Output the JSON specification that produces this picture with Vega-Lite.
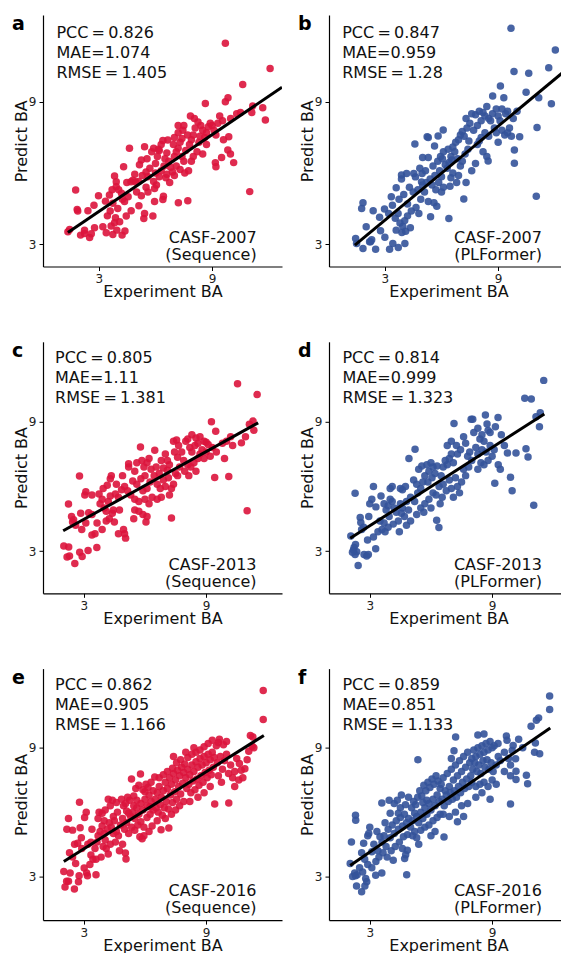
{
"$schema": "https://vega.github.io/schema/vega-lite/v6.json",
"padding": {"left": 12, "top": 15, "right": 0, "bottom": 0},
"background": "white",
"config": {
  "view": {"stroke": null},
  "font": "DejaVu Sans",
  "axis": {"grid": false, "domainColor": "#000000", "domainWidth": 1.2, "tickColor": "#000000", "tickSize": 4, "tickWidth": 1, "labelFontSize": 12, "labelColor": "#222222", "labelPadding": 3, "titleFontSize": 16, "titleFontWeight": "normal", "titleColor": "#111111", "labelFont": "DejaVu Sans", "titleFont": "DejaVu Sans"},
  "axisX": {"titlePadding": -1},
  "axisY": {"titleBaseline": "alphabetic", "titlePadding": 2},
  "title": {"anchor": "start", "frame": "group", "orient": "top", "baseline": "alphabetic", "offset": -19, "dx": -31, "fontSize": 19, "fontWeight": "bold", "font": "DejaVu Sans", "color": "#000000"},
  "text": {"font": "DejaVu Sans", "fontSize": 16, "color": "#111111", "lineBreak": "\n"}
},
"datasets": {
"pa": [{"x":1.36,"y":3.53},{"x":1.45,"y":3.63},{"x":1.77,"y":5.29},{"x":1.85,"y":4.47},{"x":1.88,"y":4.4},{"x":2.03,"y":3.39},{"x":2.24,"y":3.6},{"x":2.24,"y":3.46},{"x":2.51,"y":3.29},{"x":2.77,"y":3.7},{"x":2.42,"y":4.42},{"x":2.74,"y":4.65},{"x":2.98,"y":5.05},{"x":2.6,"y":3.45},
{"x":3.35,"y":4.82},{"x":3.39,"y":3.49},{"x":3.74,"y":3.42},{"x":3.95,"y":3.6},{"x":4.23,"y":3.39},{"x":4.38,"y":3.56},{"x":3.65,"y":3.77},{"x":3.83,"y":3.91},{"x":3.88,"y":4.12},{"x":3.21,"y":3.74},{"x":3.56,"y":5.08},{"x":3.74,"y":4.73},{"x":4.0,"y":4.51},{"x":4.36,"y":4.8},{"x":4.71,"y":4.42},{"x":4.45,"y":4.19},{"x":3.92,"y":5.64},{"x":3.83,"y":5.88},{"x":3.92,"y":5.43},{"x":4.31,"y":6.27},{"x":4.62,"y":7.04},{"x":4.48,"y":5.6},{"x":4.7,"y":5.64},{"x":4.8,"y":5.7},{"x":4.95,"y":5.62},{"x":5.1,"y":5.65},{"x":3.6,"y":4.4},{"x":4.1,"y":3.95},{"x":3.45,"y":4.2},{"x":4.25,"y":4.9},{"x":4.55,"y":5.0},{"x":3.7,"y":5.3},{"x":4.05,"y":5.3},{"x":4.2,"y":5.15},
{"x":5.0,"y":5.2},{"x":5.25,"y":5.05},{"x":5.5,"y":5.4},{"x":5.6,"y":5.2},{"x":5.42,"y":7.11},{"x":5.38,"y":4.09},{"x":5.42,"y":4.3},{"x":5.86,"y":4.19},{"x":5.12,"y":4.63},{"x":5.95,"y":4.8},{"x":6.39,"y":4.89},{"x":6.42,"y":5.03},{"x":5.9,"y":5.65},{"x":6.05,"y":5.5},{"x":5.95,"y":5.35},{"x":5.3,"y":5.9},{"x":5.5,"y":6.05},{"x":5.7,"y":6.2},{"x":5.8,"y":6.9},{"x":5.55,"y":6.6},{"x":5.25,"y":6.55},{"x":5.15,"y":6.35},{"x":4.9,"y":5.95},{"x":5.6,"y":5.85},{"x":6.0,"y":6.4},{"x":6.1,"y":6.7},{"x":6.2,"y":6.95},{"x":6.3,"y":7.2},{"x":6.15,"y":7.0},{"x":5.9,"y":7.05},{"x":6.0,"y":6.0},{"x":6.2,"y":5.85},{"x":6.3,"y":6.1},{"x":6.45,"y":6.3},
{"x":6.65,"y":7.39},{"x":6.39,"y":7.37},{"x":6.5,"y":6.6},{"x":6.6,"y":6.85},{"x":6.7,"y":6.5},{"x":6.8,"y":6.25},{"x":6.9,"y":6.05},{"x":6.55,"y":5.8},{"x":6.75,"y":5.6},{"x":6.6,"y":5.95},{"x":7.0,"y":6.7},{"x":7.1,"y":6.9},{"x":7.2,"y":7.05},{"x":6.95,"y":7.2},{"x":7.3,"y":7.3},{"x":7.4,"y":7.45},{"x":7.2,"y":7.7},{"x":7.45,"y":7.8},{"x":7.1,"y":6.3},{"x":7.3,"y":6.15},{"x":7.5,"y":6.5},{"x":7.4,"y":6.7},{"x":7.6,"y":6.95},{"x":7.21,"y":4.75},{"x":7.71,"y":4.84},{"x":7.2,"y":8.0},{"x":7.5,"y":8.0},{"x":7.0,"y":7.5},{"x":7.55,"y":6.0},{"x":7.75,"y":6.1},{"x":7.0,"y":5.9},
{"x":7.8,"y":7.2},{"x":7.9,"y":7.4},{"x":8.0,"y":7.6},{"x":8.1,"y":7.9},{"x":8.06,"y":8.3},{"x":8.25,"y":8.15},{"x":7.85,"y":8.4},{"x":8.4,"y":8.0},{"x":8.5,"y":7.8},{"x":8.6,"y":7.5},{"x":8.3,"y":7.3},{"x":8.7,"y":7.7},{"x":8.64,"y":8.93},{"x":8.9,"y":8.1},{"x":8.8,"y":7.95},{"x":9.0,"y":8.0},{"x":9.1,"y":7.8},{"x":8.2,"y":6.9},{"x":8.0,"y":6.7},{"x":7.9,"y":6.5},{"x":8.5,"y":6.8},{"x":8.7,"y":7.2},{"x":8.35,"y":7.55},{"x":7.7,"y":7.6},
{"x":9.17,"y":6.44},{"x":9.2,"y":6.27},{"x":9.5,"y":6.66},{"x":9.83,"y":6.97},{"x":9.97,"y":6.8},{"x":9.88,"y":7.53},{"x":10.14,"y":6.44},{"x":9.7,"y":11.46},{"x":9.84,"y":9.17},{"x":9.7,"y":9.0},{"x":9.98,"y":8.3},{"x":9.3,"y":8.1},{"x":9.4,"y":8.4},{"x":9.55,"y":8.2},{"x":9.2,"y":7.6},{"x":10.5,"y":8.55},{"x":11.1,"y":8.55},{"x":11.15,"y":8.82},{"x":11.68,"y":8.75},{"x":11.82,"y":8.23},{"x":10.62,"y":9.73},{"x":12.07,"y":10.4},{"x":10.99,"y":5.22},{"x":10.3,"y":8.5},{"x":9.6,"y":7.4}],
"pb": [{"x":1.45,"y":3.25},{"x":1.5,"y":3.04},{"x":1.84,"y":2.83},{"x":2.19,"y":3.11},{"x":2.24,"y":3.11},{"x":2.51,"y":2.8},{"x":3.25,"y":2.8},{"x":3.42,"y":3.04},{"x":3.71,"y":2.87},{"x":4.06,"y":3.04},{"x":1.84,"y":4.75},{"x":1.77,"y":4.51},{"x":2.01,"y":3.74},{"x":2.38,"y":4.42},{"x":2.72,"y":4.14},{"x":2.98,"y":4.49},{"x":2.77,"y":3.57},{"x":2.3,"y":3.2},{"x":3.0,"y":3.3},
{"x":3.34,"y":5.0},{"x":3.6,"y":5.38},{"x":3.88,"y":5.92},{"x":3.88,"y":5.75},{"x":4.15,"y":5.98},{"x":4.53,"y":5.98},{"x":4.62,"y":5.84},{"x":4.97,"y":5.98},{"x":4.94,"y":5.63},{"x":3.7,"y":4.3},{"x":3.55,"y":4.1},{"x":3.8,"y":3.9},{"x":3.95,"y":3.75},{"x":4.05,"y":4.0},{"x":4.2,"y":4.2},{"x":3.6,"y":3.6},{"x":3.9,"y":3.5},{"x":4.1,"y":3.55},{"x":4.35,"y":3.7},{"x":4.4,"y":4.4},{"x":4.65,"y":4.55},{"x":4.2,"y":4.7},{"x":3.4,"y":4.65},{"x":3.2,"y":4.3},{"x":4.5,"y":5.2},{"x":4.3,"y":5.4},{"x":4.0,"y":5.1},{"x":3.75,"y":4.9},{"x":4.75,"y":5.3},{"x":4.9,"y":4.9},{"x":4.8,"y":4.3},
{"x":4.59,"y":7.22},{"x":5.24,"y":7.53},{"x":5.3,"y":7.5},{"x":5.82,"y":7.56},{"x":5.63,"y":7.14},{"x":5.0,"y":6.66},{"x":5.3,"y":6.66},{"x":5.42,"y":4.16},{"x":5.2,"y":5.6},{"x":5.4,"y":5.75},{"x":5.5,"y":5.5},{"x":5.7,"y":5.3},{"x":5.65,"y":5.9},{"x":5.9,"y":6.1},{"x":6.0,"y":5.85},{"x":5.85,"y":5.6},{"x":5.55,"y":6.3},{"x":5.8,"y":6.5},{"x":5.95,"y":6.7},{"x":6.1,"y":6.9},{"x":6.05,"y":6.6},{"x":5.1,"y":5.2},{"x":5.3,"y":4.8},{"x":5.6,"y":4.75},{"x":5.75,"y":4.6},{"x":6.0,"y":5.2},{"x":6.1,"y":5.4},{"x":5.15,"y":6.1},{"x":5.0,"y":5.5},{"x":4.85,"y":6.2},
{"x":6.09,"y":7.81},{"x":6.39,"y":4.09},{"x":6.3,"y":6.2},{"x":6.4,"y":6.45},{"x":6.5,"y":6.7},{"x":6.35,"y":7.0},{"x":6.6,"y":7.1},{"x":6.75,"y":7.3},{"x":6.7,"y":6.9},{"x":6.9,"y":7.4},{"x":7.0,"y":7.6},{"x":7.1,"y":7.75},{"x":7.2,"y":7.55},{"x":6.5,"y":5.8},{"x":6.6,"y":6.0},{"x":6.8,"y":5.6},{"x":6.9,"y":5.9},{"x":7.0,"y":6.3},{"x":7.1,"y":6.5},{"x":6.45,"y":5.45},{"x":7.18,"y":4.91},{"x":6.85,"y":6.6},{"x":7.25,"y":6.8},{"x":7.4,"y":7.0},{"x":7.35,"y":7.9},{"x":7.5,"y":8.1},{"x":7.3,"y":8.3},{"x":7.45,"y":7.35},{"x":6.2,"y":6.35},{"x":6.55,"y":6.55},{"x":7.6,"y":6.1},{"x":7.3,"y":5.6},
{"x":7.6,"y":8.5},{"x":7.8,"y":8.45},{"x":8.0,"y":8.6},{"x":8.2,"y":8.55},{"x":8.1,"y":8.2},{"x":7.9,"y":8.0},{"x":7.7,"y":7.8},{"x":8.3,"y":8.4},{"x":8.5,"y":8.3},{"x":8.4,"y":8.8},{"x":8.6,"y":8.2},{"x":8.8,"y":7.9},{"x":8.1,"y":7.5},{"x":8.3,"y":7.7},{"x":8.5,"y":7.55},{"x":7.9,"y":7.2},{"x":8.0,"y":7.35},{"x":8.2,"y":6.9},{"x":8.4,"y":6.7},{"x":8.47,"y":6.51},{"x":7.8,"y":6.4},{"x":8.71,"y":9.24},{"x":9.12,"y":9.66},{"x":9.3,"y":9.17},{"x":8.9,"y":8.7},{"x":9.0,"y":8.4},{"x":9.2,"y":8.7},{"x":9.1,"y":8.2},{"x":9.4,"y":8.5},{"x":9.5,"y":8.6},{"x":9.2,"y":7.8},{"x":9.35,"y":7.6},{"x":9.5,"y":7.7},{"x":8.9,"y":7.7},{"x":9.0,"y":7.3},{"x":9.6,"y":7.9},{"x":8.7,"y":8.5},
{"x":9.68,"y":12.09},{"x":12.03,"y":11.18},{"x":11.68,"y":10.43},{"x":10.62,"y":10.2},{"x":9.84,"y":10.27},{"x":10.48,"y":9.4},{"x":11.15,"y":9.17},{"x":11.82,"y":8.92},{"x":11.06,"y":7.92},{"x":11.02,"y":5.03},{"x":9.86,"y":6.97},{"x":9.86,"y":6.41},{"x":10.14,"y":7.53},{"x":9.8,"y":8.3},{"x":10.0,"y":8.6},{"x":9.7,"y":7.55}],
"pc": [{"x":2.02,"y":3.23},{"x":2.26,"y":3.19},{"x":2.18,"y":2.72},{"x":2.3,"y":2.77},{"x":2.56,"y":2.42},{"x":2.8,"y":2.95},{"x":2.92,"y":2.75},{"x":3.21,"y":3.03},{"x":3.64,"y":3.16},{"x":2.25,"y":5.18},{"x":2.79,"y":6.48},{"x":2.5,"y":4.45},{"x":2.45,"y":4.35},{"x":2.85,"y":4.75},{"x":3.24,"y":4.78},{"x":2.6,"y":4.2},{"x":3.1,"y":4.3},{"x":3.05,"y":5.6},{"x":3.1,"y":5.75},{"x":3.4,"y":5.6},{"x":3.75,"y":5.65},{"x":3.4,"y":4.7},{"x":3.65,"y":4.3},{"x":3.55,"y":3.8},{"x":3.4,"y":3.75},{"x":2.9,"y":4.0},{"x":2.4,"y":4.6},
{"x":3.8,"y":5.2},{"x":3.9,"y":5.4},{"x":4.0,"y":5.0},{"x":4.1,"y":4.85},{"x":4.2,"y":5.3},{"x":4.3,"y":5.55},{"x":4.25,"y":4.5},{"x":4.4,"y":4.75},{"x":4.5,"y":4.35},{"x":4.1,"y":4.4},{"x":3.9,"y":4.0},{"x":4.7,"y":3.8},{"x":5.0,"y":3.8},{"x":5.05,"y":3.6},{"x":4.95,"y":4.0},{"x":4.55,"y":5.65},{"x":4.7,"y":5.5},{"x":4.85,"y":5.85},{"x":5.0,"y":6.0},{"x":4.6,"y":6.1},{"x":4.3,"y":6.35},{"x":4.35,"y":6.5},{"x":4.9,"y":6.5},{"x":3.95,"y":5.9},{"x":4.15,"y":6.05},{"x":4.45,"y":4.9},{"x":4.75,"y":4.9},
{"x":5.78,"y":7.83},{"x":5.2,"y":6.9},{"x":5.2,"y":7.05},{"x":5.5,"y":6.7},{"x":5.4,"y":6.25},{"x":5.6,"y":6.1},{"x":5.8,"y":6.35},{"x":5.95,"y":6.9},{"x":6.1,"y":7.1},{"x":6.0,"y":6.5},{"x":5.3,"y":5.6},{"x":5.5,"y":5.4},{"x":5.7,"y":5.3},{"x":5.9,"y":5.8},{"x":6.1,"y":5.9},{"x":6.25,"y":6.2},{"x":6.3,"y":6.8},{"x":6.45,"y":6.5},{"x":5.7,"y":4.85},{"x":5.9,"y":4.7},{"x":6.1,"y":4.6},{"x":5.5,"y":4.9},{"x":6.2,"y":5.2},{"x":6.0,"y":5.4},{"x":6.35,"y":5.5},{"x":5.15,"y":5.8},{"x":5.6,"y":7.1},{"x":5.85,"y":7.2},{"x":6.2,"y":7.3},{"x":5.45,"y":4.5},{"x":6.05,"y":4.35},
{"x":6.48,"y":7.68},{"x":6.55,"y":6.9},{"x":6.7,"y":6.6},{"x":6.8,"y":7.2},{"x":6.9,"y":6.85},{"x":7.0,"y":7.5},{"x":7.1,"y":7.2},{"x":7.2,"y":7.0},{"x":6.6,"y":6.1},{"x":6.75,"y":5.9},{"x":6.9,"y":6.3},{"x":7.0,"y":6.0},{"x":7.15,"y":6.4},{"x":7.3,"y":5.9},{"x":7.4,"y":6.1},{"x":7.5,"y":6.6},{"x":7.3,"y":4.53},{"x":7.2,"y":5.6},{"x":6.8,"y":5.5},{"x":7.45,"y":7.6},{"x":7.6,"y":7.35},{"x":7.65,"y":7.9},{"x":7.4,"y":8.1},{"x":7.55,"y":8.15},{"x":7.8,"y":7.6},{"x":7.9,"y":7.2},{"x":7.7,"y":6.9},{"x":7.6,"y":6.5},{"x":7.95,"y":6.7},{"x":8.0,"y":8.1},{"x":6.6,"y":5.4},{"x":7.1,"y":6.75},
{"x":8.1,"y":8.2},{"x":8.2,"y":7.8},{"x":8.3,"y":7.6},{"x":8.45,"y":7.9},{"x":8.6,"y":8.0},{"x":8.7,"y":8.3},{"x":8.5,"y":8.25},{"x":8.9,"y":8.1},{"x":9.0,"y":8.05},{"x":8.8,"y":7.7},{"x":8.4,"y":7.1},{"x":8.6,"y":7.3},{"x":8.7,"y":7.5},{"x":8.9,"y":7.3},{"x":9.0,"y":7.6},{"x":9.2,"y":7.4},{"x":8.25,"y":6.9},{"x":8.5,"y":6.7},{"x":8.1,"y":7.0},{"x":9.26,"y":9.0},{"x":9.47,"y":8.56},{"x":9.42,"y":6.41},{"x":9.1,"y":7.95},{"x":9.3,"y":7.8},{"x":9.5,"y":7.6},{"x":8.3,"y":8.4},{"x":8.15,"y":6.5},
{"x":10.54,"y":10.76},{"x":11.5,"y":10.26},{"x":11.3,"y":9.03},{"x":11.12,"y":8.88},{"x":11.34,"y":8.61},{"x":10.93,"y":8.3},{"x":10.73,"y":8.02},{"x":10.11,"y":6.46},{"x":11.01,"y":4.87},{"x":9.8,"y":8.0},{"x":10.0,"y":8.1},{"x":10.3,"y":7.9},{"x":9.9,"y":7.3},{"x":10.2,"y":8.3}],
"pd": [{"x":2.07,"y":3.7},{"x":2.23,"y":3.16},{"x":2.36,"y":2.97},{"x":2.28,"y":2.84},{"x":2.43,"y":2.33},{"x":2.72,"y":2.84},{"x":2.85,"y":2.77},{"x":2.93,"y":2.84},{"x":3.29,"y":3.11},{"x":2.89,"y":3.51},{"x":3.18,"y":3.65},{"x":2.2,"y":3.05},{"x":2.15,"y":2.95},{"x":2.3,"y":3.3},{"x":2.28,"y":5.68},{"x":3.18,"y":6.0},{"x":2.53,"y":4.56},{"x":2.56,"y":4.32},{"x":2.7,"y":4.1},{"x":2.95,"y":4.6},{"x":3.0,"y":5.2},{"x":3.1,"y":5.4},{"x":3.3,"y":5.05},{"x":3.5,"y":4.4},{"x":3.6,"y":4.0},{"x":3.4,"y":3.9},{"x":3.7,"y":4.3},{"x":3.75,"y":3.9},{"x":2.6,"y":4.0},
{"x":3.8,"y":4.9},{"x":3.9,"y":5.1},{"x":4.0,"y":5.4},{"x":4.1,"y":5.3},{"x":4.2,"y":5.0},{"x":4.3,"y":4.8},{"x":4.5,"y":5.2},{"x":4.6,"y":5.0},{"x":4.4,"y":4.4},{"x":4.15,"y":4.25},{"x":3.95,"y":4.6},{"x":4.7,"y":4.6},{"x":4.55,"y":4.75},{"x":4.8,"y":5.3},{"x":4.9,"y":4.9},{"x":3.55,"y":5.55},{"x":3.7,"y":5.2},{"x":4.0,"y":5.9},{"x":4.1,"y":6.0},{"x":4.5,"y":5.9},{"x":4.6,"y":5.85},{"x":4.75,"y":6.0},{"x":4.92,"y":7.29},{"x":5.22,"y":7.72},{"x":4.45,"y":3.9},{"x":4.8,"y":4.2},{"x":5.0,"y":4.4},{"x":3.9,"y":4.1},
{"x":5.0,"y":5.5},{"x":5.2,"y":5.3},{"x":5.35,"y":5.7},{"x":5.5,"y":5.9},{"x":5.6,"y":6.2},{"x":5.7,"y":6.5},{"x":5.4,"y":6.8},{"x":5.55,"y":6.95},{"x":5.8,"y":7.0},{"x":5.9,"y":6.7},{"x":6.0,"y":7.1},{"x":6.1,"y":6.9},{"x":5.15,"y":6.3},{"x":5.3,"y":6.1},{"x":5.85,"y":6.2},{"x":6.05,"y":6.4},{"x":6.2,"y":6.6},{"x":6.3,"y":6.95},{"x":5.5,"y":5.0},{"x":5.7,"y":5.2},{"x":5.9,"y":5.4},{"x":6.1,"y":5.7},{"x":6.25,"y":5.6},{"x":6.4,"y":6.0},{"x":5.65,"y":4.8},{"x":6.28,"y":4.43},{"x":6.39,"y":4.09},{"x":5.3,"y":4.7},{"x":6.45,"y":5.2},{"x":6.0,"y":5.0},
{"x":6.5,"y":6.5},{"x":6.6,"y":6.9},{"x":6.7,"y":7.2},{"x":6.8,"y":7.0},{"x":6.9,"y":7.3},{"x":7.0,"y":7.5},{"x":7.1,"y":7.1},{"x":6.6,"y":6.1},{"x":6.75,"y":5.8},{"x":6.9,"y":6.3},{"x":7.0,"y":5.9},{"x":7.2,"y":6.4},{"x":7.3,"y":6.0},{"x":7.4,"y":5.7},{"x":7.5,"y":6.2},{"x":7.13,"y":8.92},{"x":6.8,"y":7.9},{"x":7.0,"y":8.1},{"x":7.25,"y":7.9},{"x":7.3,"y":7.5},{"x":7.45,"y":7.7},{"x":7.6,"y":8.3},{"x":7.7,"y":8.0},{"x":7.8,"y":7.4},{"x":7.9,"y":7.6},{"x":7.97,"y":9.12},{"x":7.6,"y":6.8},{"x":7.7,"y":6.5},{"x":7.85,"y":6.9},{"x":6.55,"y":5.5},{"x":7.1,"y":5.5},
{"x":8.05,"y":9.12},{"x":8.67,"y":9.31},{"x":9.29,"y":9.2},{"x":9.16,"y":8.77},{"x":8.1,"y":8.5},{"x":8.3,"y":8.7},{"x":8.4,"y":8.2},{"x":8.5,"y":8.4},{"x":8.6,"y":8.1},{"x":8.8,"y":8.6},{"x":8.9,"y":8.5},{"x":8.2,"y":7.8},{"x":8.3,"y":7.5},{"x":8.5,"y":7.7},{"x":8.7,"y":7.6},{"x":8.9,"y":7.9},{"x":9.0,"y":7.4},{"x":9.1,"y":7.7},{"x":8.45,"y":7.1},{"x":8.6,"y":7.0},{"x":8.8,"y":7.2},{"x":9.13,"y":6.15},{"x":8.3,"y":6.8},{"x":8.0,"y":7.2},{"x":9.3,"y":7.0},{"x":9.4,"y":6.8},{"x":8.75,"y":8.9},{"x":9.45,"y":8.4},
{"x":11.53,"y":10.92},{"x":10.6,"y":10.09},{"x":10.92,"y":10.06},{"x":11.36,"y":9.42},{"x":11.15,"y":9.23},{"x":11.32,"y":8.77},{"x":11.04,"y":5.13},{"x":10.66,"y":7.75},{"x":10.76,"y":7.36},{"x":9.98,"y":5.8},{"x":10.17,"y":7.55},{"x":9.75,"y":7.55},{"x":9.9,"y":6.43},{"x":9.6,"y":7.9}],
"pe": [{"x":2.02,"y":3.23},{"x":2.33,"y":3.16},{"x":2.16,"y":2.77},{"x":2.25,"y":2.77},{"x":2.08,"y":2.5},{"x":2.54,"y":2.41},{"x":2.77,"y":3.03},{"x":2.74,"y":2.75},{"x":3.02,"y":3.39},{"x":3.18,"y":3.03},{"x":3.6,"y":3.08},{"x":3.14,"y":3.16},{"x":2.79,"y":6.46},{"x":2.25,"y":5.7},{"x":2.17,"y":5.2},{"x":2.45,"y":5.16},{"x":2.82,"y":5.27},{"x":2.88,"y":4.8},{"x":3.12,"y":6.0},{"x":3.04,"y":5.75},{"x":2.9,"y":4.3},{"x":2.55,"y":4.5},{"x":2.3,"y":4.1},{"x":2.45,"y":3.9},{"x":2.7,"y":4.55},{"x":3.2,"y":4.5},{"x":3.35,"y":4.0},{"x":3.45,"y":3.8},{"x":3.3,"y":3.55},{"x":2.6,"y":3.6},{"x":3.4,"y":5.2},{"x":3.35,"y":4.6},
{"x":3.55,"y":4.3},{"x":3.65,"y":4.6},{"x":3.7,"y":4.9},{"x":3.8,"y":5.1},{"x":3.9,"y":5.35},{"x":4.0,"y":5.0},{"x":4.05,"y":4.7},{"x":4.15,"y":5.2},{"x":4.25,"y":5.5},{"x":4.35,"y":5.3},{"x":4.45,"y":5.8},{"x":4.5,"y":5.6},{"x":4.6,"y":5.1},{"x":4.7,"y":4.9},{"x":4.8,"y":5.4},{"x":4.9,"y":5.7},{"x":3.95,"y":4.4},{"x":4.1,"y":4.3},{"x":4.3,"y":4.5},{"x":4.55,"y":4.6},{"x":4.75,"y":4.2},{"x":3.6,"y":3.8},{"x":3.85,"y":3.9},{"x":4.2,"y":4.05},{"x":3.7,"y":5.7},{"x":3.9,"y":5.95},{"x":4.05,"y":6.1},{"x":4.3,"y":6.3},{"x":4.4,"y":6.55},{"x":4.2,"y":6.6},{"x":4.6,"y":6.45},{"x":4.85,"y":6.6},{"x":4.95,"y":6.3},{"x":4.65,"y":6.0},{"x":5.04,"y":4.09},{"x":5.07,"y":3.81},{"x":4.45,"y":5.0},{"x":4.0,"y":5.6},{"x":3.75,"y":6.0},{"x":4.9,"y":4.5},
{"x":5.0,"y":5.2},{"x":5.1,"y":5.5},{"x":5.2,"y":5.0},{"x":5.3,"y":5.8},{"x":5.4,"y":6.0},{"x":5.5,"y":5.7},{"x":5.6,"y":6.2},{"x":5.7,"y":5.9},{"x":5.8,"y":6.4},{"x":5.9,"y":6.1},{"x":6.0,"y":6.6},{"x":6.1,"y":6.3},{"x":6.2,"y":6.8},{"x":6.3,"y":6.5},{"x":6.4,"y":7.0},{"x":5.05,"y":6.4},{"x":5.15,"y":6.7},{"x":5.25,"y":6.55},{"x":5.45,"y":6.75},{"x":5.34,"y":7.55},{"x":5.78,"y":7.78},{"x":5.55,"y":7.1},{"x":5.7,"y":7.25},{"x":5.9,"y":7.05},{"x":6.05,"y":7.3},{"x":6.15,"y":7.15},{"x":6.3,"y":7.4},{"x":5.2,"y":5.95},{"x":5.35,"y":5.3},{"x":5.5,"y":5.15},{"x":5.65,"y":5.4},{"x":5.8,"y":5.55},{"x":5.95,"y":5.3},{"x":6.1,"y":5.75},{"x":6.25,"y":5.9},{"x":6.4,"y":6.1},{"x":5.86,"y":4.76},{"x":5.75,"y":4.85},{"x":5.95,"y":4.9},{"x":6.2,"y":5.1},{"x":6.35,"y":5.35},{"x":5.6,"y":6.55},{"x":6.0,"y":6.95},{"x":6.25,"y":6.25},{"x":5.45,"y":6.3},{"x":5.1,"y":6.05},
{"x":6.48,"y":7.64},{"x":6.5,"y":6.6},{"x":6.6,"y":6.9},{"x":6.7,"y":7.2},{"x":6.8,"y":6.7},{"x":6.9,"y":7.0},{"x":7.0,"y":7.4},{"x":7.1,"y":7.1},{"x":7.2,"y":7.6},{"x":7.3,"y":7.3},{"x":7.4,"y":7.8},{"x":7.5,"y":7.5},{"x":7.6,"y":7.95},{"x":7.7,"y":7.7},{"x":7.8,"y":8.1},{"x":7.9,"y":7.85},{"x":6.55,"y":6.2},{"x":6.65,"y":6.0},{"x":6.75,"y":6.35},{"x":6.85,"y":5.85},{"x":6.95,"y":6.2},{"x":7.05,"y":6.5},{"x":7.15,"y":6.15},{"x":7.25,"y":6.8},{"x":7.35,"y":6.45},{"x":7.45,"y":6.95},{"x":7.55,"y":6.6},{"x":7.65,"y":7.2},{"x":7.75,"y":6.85},{"x":7.85,"y":7.35},{"x":6.79,"y":5.18},{"x":7.17,"y":5.26},{"x":6.6,"y":5.6},{"x":7.0,"y":5.7},{"x":7.3,"y":5.9},{"x":7.5,"y":6.1},{"x":7.7,"y":6.3},{"x":7.9,"y":6.5},{"x":6.7,"y":7.6},{"x":6.9,"y":7.75},{"x":7.1,"y":7.9},{"x":7.35,"y":8.05},{"x":7.55,"y":8.3},{"x":7.75,"y":8.45},{"x":7.95,"y":8.25},{"x":7.4,"y":8.6},
{"x":8.0,"y":7.6},{"x":8.1,"y":8.0},{"x":8.2,"y":7.75},{"x":8.3,"y":8.2},{"x":8.4,"y":7.9},{"x":8.5,"y":8.35},{"x":8.6,"y":8.1},{"x":8.7,"y":8.5},{"x":8.8,"y":8.2},{"x":8.9,"y":8.6},{"x":9.0,"y":8.3},{"x":9.1,"y":8.7},{"x":9.2,"y":8.45},{"x":9.3,"y":8.8},{"x":9.4,"y":8.55},{"x":8.05,"y":7.1},{"x":8.15,"y":7.3},{"x":8.25,"y":6.9},{"x":8.35,"y":7.45},{"x":8.45,"y":7.05},{"x":8.55,"y":7.55},{"x":8.65,"y":7.25},{"x":8.75,"y":7.7},{"x":8.85,"y":7.4},{"x":8.95,"y":7.85},{"x":9.05,"y":7.6},{"x":9.15,"y":7.95},{"x":9.25,"y":7.75},{"x":9.35,"y":8.1},{"x":8.1,"y":8.55},{"x":8.3,"y":8.7},{"x":8.5,"y":8.8},{"x":8.7,"y":8.9},{"x":8.9,"y":9.05},{"x":9.1,"y":9.2},{"x":8.2,"y":6.5},{"x":8.6,"y":6.7},{"x":8.9,"y":6.9},{"x":9.42,"y":6.38},{"x":9.2,"y":7.2},{"x":9.5,"y":9.1},{"x":9.6,"y":9.25},{"x":9.3,"y":9.35},{"x":8.4,"y":9.0},{"x":8.0,"y":8.8},
{"x":9.55,"y":8.3},{"x":9.7,"y":8.6},{"x":9.8,"y":8.0},{"x":9.9,"y":8.4},{"x":10.0,"y":8.7},{"x":10.1,"y":7.8},{"x":10.2,"y":8.2},{"x":10.3,"y":7.6},{"x":10.4,"y":7.9},{"x":10.5,"y":8.5},{"x":9.6,"y":7.7},{"x":9.75,"y":7.4},{"x":10.11,"y":6.43},{"x":9.85,"y":9.15},{"x":10.0,"y":9.3},{"x":9.65,"y":9.4},{"x":10.63,"y":8.27},{"x":10.72,"y":7.96},{"x":10.9,"y":8.02},{"x":11.01,"y":8.45},{"x":11.09,"y":8.84},{"x":11.34,"y":9.0},{"x":11.26,"y":9.08},{"x":11.29,"y":9.51},{"x":11.17,"y":9.58},{"x":11.8,"y":10.32},{"x":11.8,"y":11.68},{"x":10.6,"y":7.5},{"x":10.8,"y":7.6},{"x":10.4,"y":7.2}],
"pf": [{"x":2.04,"y":3.6},{"x":2.26,"y":3.16},{"x":2.3,"y":3.03},{"x":2.38,"y":3.08},{"x":2.16,"y":2.99},{"x":2.35,"y":2.55},{"x":2.6,"y":2.28},{"x":2.76,"y":2.55},{"x":2.85,"y":2.75},{"x":2.8,"y":2.9},{"x":3.29,"y":3.05},{"x":3.59,"y":3.16},{"x":2.3,"y":5.85},{"x":2.31,"y":5.62},{"x":2.1,"y":4.61},{"x":3.59,"y":6.43},{"x":2.7,"y":4.55},{"x":2.9,"y":4.9},{"x":3.0,"y":5.3},{"x":2.95,"y":5.0},{"x":2.6,"y":4.1},{"x":2.75,"y":3.8},{"x":2.9,"y":3.55},{"x":3.1,"y":3.4},{"x":3.3,"y":3.7},{"x":3.4,"y":4.2},{"x":3.2,"y":4.5},{"x":3.45,"y":3.9},{"x":3.5,"y":4.85},{"x":3.35,"y":5.1},{"x":3.1,"y":4.15},{"x":2.5,"y":3.4},{"x":2.65,"y":3.2},
{"x":3.6,"y":4.6},{"x":3.7,"y":4.9},{"x":3.8,"y":4.4},{"x":3.9,"y":5.2},{"x":4.0,"y":4.8},{"x":4.1,"y":5.4},{"x":4.2,"y":5.0},{"x":4.3,"y":5.6},{"x":4.4,"y":5.2},{"x":4.5,"y":5.75},{"x":4.6,"y":5.35},{"x":4.7,"y":5.9},{"x":4.8,"y":5.5},{"x":4.9,"y":5.7},{"x":3.65,"y":4.1},{"x":3.85,"y":3.9},{"x":4.05,"y":4.2},{"x":4.25,"y":4.4},{"x":4.45,"y":4.6},{"x":4.65,"y":4.85},{"x":4.85,"y":4.95},{"x":3.75,"y":5.5},{"x":4.0,"y":5.95},{"x":4.2,"y":6.4},{"x":4.35,"y":6.55},{"x":4.55,"y":6.8},{"x":4.5,"y":6.2},{"x":4.75,"y":6.35},{"x":4.9,"y":6.7},{"x":4.81,"y":3.08},{"x":4.71,"y":3.83},{"x":4.76,"y":4.01},{"x":4.84,"y":4.22},{"x":5.36,"y":8.45},{"x":4.15,"y":3.75},{"x":4.6,"y":4.3},{"x":3.95,"y":6.55},{"x":4.4,"y":5.95},
{"x":5.0,"y":5.3},{"x":5.1,"y":5.6},{"x":5.2,"y":5.1},{"x":5.3,"y":5.8},{"x":5.4,"y":5.5},{"x":5.5,"y":6.0},{"x":5.6,"y":5.7},{"x":5.7,"y":6.2},{"x":5.8,"y":5.9},{"x":5.9,"y":6.4},{"x":6.0,"y":6.1},{"x":6.1,"y":6.6},{"x":6.2,"y":6.3},{"x":6.3,"y":6.8},{"x":6.4,"y":6.5},{"x":5.05,"y":6.2},{"x":5.15,"y":6.5},{"x":5.25,"y":6.35},{"x":5.35,"y":6.7},{"x":5.45,"y":7.0},{"x":5.55,"y":6.75},{"x":5.65,"y":7.25},{"x":5.75,"y":7.0},{"x":5.85,"y":7.4},{"x":5.95,"y":7.15},{"x":6.05,"y":7.55},{"x":6.15,"y":7.3},{"x":6.25,"y":7.7},{"x":6.35,"y":7.45},{"x":5.1,"y":4.9},{"x":5.3,"y":4.8},{"x":5.5,"y":5.15},{"x":5.7,"y":5.3},{"x":5.9,"y":5.4},{"x":6.1,"y":5.6},{"x":6.3,"y":5.75},{"x":6.45,"y":5.9},{"x":5.4,"y":4.5},{"x":6.64,"y":4.84},{"x":6.0,"y":4.9},{"x":6.2,"y":5.1},{"x":5.6,"y":6.45},{"x":5.8,"y":6.55},{"x":6.45,"y":7.1},{"x":5.2,"y":5.95},
{"x":6.5,"y":7.3},{"x":6.6,"y":7.6},{"x":6.7,"y":7.0},{"x":6.8,"y":7.8},{"x":6.9,"y":7.2},{"x":7.0,"y":8.0},{"x":7.1,"y":7.5},{"x":7.2,"y":8.2},{"x":7.3,"y":7.7},{"x":7.4,"y":8.4},{"x":7.5,"y":7.9},{"x":7.6,"y":8.6},{"x":7.7,"y":8.1},{"x":7.8,"y":8.8},{"x":7.9,"y":8.3},{"x":6.55,"y":6.6},{"x":6.65,"y":6.3},{"x":6.75,"y":6.8},{"x":6.85,"y":6.5},{"x":6.95,"y":6.9},{"x":7.05,"y":6.6},{"x":7.15,"y":7.0},{"x":7.25,"y":6.7},{"x":7.35,"y":7.2},{"x":7.45,"y":6.9},{"x":7.55,"y":7.4},{"x":7.65,"y":7.1},{"x":7.75,"y":7.55},{"x":7.85,"y":7.2},{"x":7.95,"y":7.7},{"x":7.21,"y":9.51},{"x":7.13,"y":8.87},{"x":6.6,"y":5.9},{"x":6.9,"y":5.8},{"x":7.2,"y":6.0},{"x":7.5,"y":6.3},{"x":7.8,"y":6.4},{"x":7.3,"y":5.55},{"x":7.6,"y":5.8},{"x":7.0,"y":8.5},
{"x":8.0,"y":8.5},{"x":8.1,"y":8.9},{"x":8.2,"y":8.6},{"x":8.3,"y":9.0},{"x":8.4,"y":8.7},{"x":8.5,"y":9.1},{"x":8.6,"y":8.8},{"x":8.7,"y":9.2},{"x":8.8,"y":8.9},{"x":8.9,"y":9.3},{"x":9.0,"y":9.0},{"x":8.05,"y":8.0},{"x":8.15,"y":8.3},{"x":8.25,"y":7.9},{"x":8.35,"y":8.2},{"x":8.45,"y":7.8},{"x":8.55,"y":8.4},{"x":8.65,"y":8.1},{"x":8.75,"y":8.45},{"x":8.85,"y":8.0},{"x":8.95,"y":8.3},{"x":9.05,"y":7.9},{"x":8.0,"y":7.4},{"x":8.2,"y":7.2},{"x":8.4,"y":7.3},{"x":8.6,"y":7.4},{"x":8.8,"y":7.2},{"x":9.0,"y":7.5},{"x":9.2,"y":7.3},{"x":8.5,"y":6.9},{"x":8.2,"y":6.7},{"x":8.9,"y":6.6},{"x":8.3,"y":9.6},{"x":8.6,"y":9.65},{"x":9.1,"y":9.1},{"x":9.3,"y":8.6},{"x":9.4,"y":8.4},{"x":9.2,"y":8.2},
{"x":9.7,"y":9.55},{"x":9.73,"y":9.35},{"x":9.29,"y":9.2},{"x":10.03,"y":9.11},{"x":9.98,"y":8.88},{"x":10.15,"y":8.49},{"x":9.6,"y":8.8},{"x":9.8,"y":8.5},{"x":9.9,"y":8.2},{"x":9.6,"y":7.9},{"x":9.9,"y":7.7},{"x":10.17,"y":7.91},{"x":10.17,"y":7.52},{"x":10.68,"y":7.72},{"x":10.74,"y":7.33},{"x":9.9,"y":6.38},{"x":11.12,"y":9.23},{"x":11.08,"y":8.8},{"x":11.33,"y":8.72},{"x":11.28,"y":10.4},{"x":11.17,"y":10.29},{"x":10.91,"y":10.01},{"x":11.82,"y":10.79},{"x":11.82,"y":11.42},{"x":10.5,"y":9.0},{"x":10.3,"y":9.4}],
"lines": [{"p":"a","x":1.36,"y":3.5},{"p":"a","x":12.7,"y":9.61},{"p":"b","x":1.41,"y":2.97},{"p":"b","x":12.7,"y":10.41},{"p":"c","x":1.99,"y":3.94},{"p":"c","x":11.55,"y":8.95},{"p":"d","x":2.04,"y":3.59},{"p":"d","x":11.56,"y":9.36},{"p":"e","x":2.02,"y":3.7},{"p":"e","x":11.83,"y":9.58},{"p":"f","x":2.04,"y":3.51},{"p":"f","x":11.85,"y":9.93}],
"labels": [{"p":"a","stats":"PCC\u2009=\u20090.826\nMAE=1.074\nRMSE\u2009=\u20091.405","set":"CASF-2007\n(Sequence)"},{"p":"b","stats":"PCC\u2009=\u20090.847\nMAE=0.959\nRMSE\u2009=\u20091.28","set":"CASF-2007\n(PLFormer)"},{"p":"c","stats":"PCC\u2009=\u20090.805\nMAE=1.11\nRMSE\u2009=\u20091.381","set":"CASF-2013\n(Sequence)"},{"p":"d","stats":"PCC\u2009=\u20090.814\nMAE=0.999\nRMSE\u2009=\u20091.323","set":"CASF-2013\n(PLFormer)"},{"p":"e","stats":"PCC\u2009=\u20090.862\nMAE=0.905\nRMSE\u2009=\u20091.166","set":"CASF-2016\n(Sequence)"},{"p":"f","stats":"PCC\u2009=\u20090.859\nMAE=0.851\nRMSE\u2009=\u20091.133","set":"CASF-2016\n(PLFormer)"}]
},
"columns": 2,
"spacing": {"row": 74.8, "column": 47},
"bounds": "flush",
"concat": [
{"width": 239, "height": 251.5, "title": {"text": "a"},
 "layer": [
  {"data": {"name": "pa"}, "mark": {"type": "circle", "size": 56, "opacity": 0.9, "color": "#DC143C"},
   "encoding": {"x": {"field": "x", "type": "quantitative", "scale": {"domain": [0.04, 12.7], "nice": false, "zero": false}, "axis": {"values": [3, 9]}, "title": "Experiment BA"},
                "y": {"field": "y", "type": "quantitative", "scale": {"domain": [2.07, 12.65], "nice": false, "zero": false}, "axis": {"values": [3, 9]}, "title": "Predict BA"}}},
  {"data": {"name": "lines"}, "transform": [{"filter": "datum.p == 'a'"}], "mark": {"type": "line", "color": "#000000", "strokeWidth": 3, "clip": true},
   "encoding": {"x": {"field": "x", "type": "quantitative"}, "y": {"field": "y", "type": "quantitative"}}},
  {"data": {"name": "labels"}, "transform": [{"filter": "datum.p == 'a'"}], "mark": {"type": "text", "align": "left", "baseline": "alphabetic", "lineHeight": 20},
   "encoding": {"x": {"datum": 0.75, "type": "quantitative"}, "y": {"datum": 11.69, "type": "quantitative"}, "text": {"field": "stats"}}},
  {"data": {"name": "labels"}, "transform": [{"filter": "datum.p == 'a'"}], "mark": {"type": "text", "align": "right", "baseline": "alphabetic", "lineHeight": 17},
   "encoding": {"x": {"datum": 11.36, "type": "quantitative"}, "y": {"datum": 3.07, "type": "quantitative"}, "text": {"field": "set"}}}
 ]},
{"width": 239, "height": 251.5, "title": {"text": "b"},
 "layer": [
  {"data": {"name": "pb"}, "mark": {"type": "circle", "size": 56, "opacity": 0.9, "color": "#34539A"},
   "encoding": {"x": {"field": "x", "type": "quantitative", "scale": {"domain": [0.04, 12.7], "nice": false, "zero": false}, "axis": {"values": [3, 9]}, "title": "Experiment BA"},
                "y": {"field": "y", "type": "quantitative", "scale": {"domain": [2.07, 12.65], "nice": false, "zero": false}, "axis": {"values": [3, 9]}, "title": "Predict BA"}}},
  {"data": {"name": "lines"}, "transform": [{"filter": "datum.p == 'b'"}], "mark": {"type": "line", "color": "#000000", "strokeWidth": 3, "clip": true},
   "encoding": {"x": {"field": "x", "type": "quantitative"}, "y": {"field": "y", "type": "quantitative"}}},
  {"data": {"name": "labels"}, "transform": [{"filter": "datum.p == 'b'"}], "mark": {"type": "text", "align": "left", "baseline": "alphabetic", "lineHeight": 20},
   "encoding": {"x": {"datum": 0.74, "type": "quantitative"}, "y": {"datum": 11.69, "type": "quantitative"}, "text": {"field": "stats"}}},
  {"data": {"name": "labels"}, "transform": [{"filter": "datum.p == 'b'"}], "mark": {"type": "text", "align": "right", "baseline": "alphabetic", "lineHeight": 17},
   "encoding": {"x": {"datum": 11.32, "type": "quantitative"}, "y": {"datum": 3.07, "type": "quantitative"}, "text": {"field": "set"}}}
 ]},
{"width": 239, "height": 251.5, "title": {"text": "c"},
 "layer": [
  {"data": {"name": "pc"}, "mark": {"type": "circle", "size": 56, "opacity": 0.9, "color": "#DC143C"},
   "encoding": {"x": {"field": "x", "type": "quantitative", "scale": {"domain": [1.0, 12.72], "nice": false, "zero": false}, "axis": {"values": [3, 9]}, "title": "Experiment BA"},
                "y": {"field": "y", "type": "quantitative", "scale": {"domain": [1.04, 12.71], "nice": false, "zero": false}, "axis": {"values": [3, 9]}, "title": "Predict BA"}}},
  {"data": {"name": "lines"}, "transform": [{"filter": "datum.p == 'c'"}], "mark": {"type": "line", "color": "#000000", "strokeWidth": 3, "clip": true},
   "encoding": {"x": {"field": "x", "type": "quantitative"}, "y": {"field": "y", "type": "quantitative"}}},
  {"data": {"name": "labels"}, "transform": [{"filter": "datum.p == 'c'"}], "mark": {"type": "text", "align": "left", "baseline": "alphabetic", "lineHeight": 20},
   "encoding": {"x": {"datum": 1.59, "type": "quantitative"}, "y": {"datum": 11.73, "type": "quantitative"}, "text": {"field": "stats"}}},
  {"data": {"name": "labels"}, "transform": [{"filter": "datum.p == 'c'"}], "mark": {"type": "text", "align": "right", "baseline": "alphabetic", "lineHeight": 17},
   "encoding": {"x": {"datum": 11.47, "type": "quantitative"}, "y": {"datum": 2.14, "type": "quantitative"}, "text": {"field": "set"}}}
 ]},
{"width": 239, "height": 251.5, "title": {"text": "d"},
 "layer": [
  {"data": {"name": "pd"}, "mark": {"type": "circle", "size": 56, "opacity": 0.9, "color": "#34539A"},
   "encoding": {"x": {"field": "x", "type": "quantitative", "scale": {"domain": [1.0, 12.72], "nice": false, "zero": false}, "axis": {"values": [3, 9]}, "title": "Experiment BA"},
                "y": {"field": "y", "type": "quantitative", "scale": {"domain": [1.04, 12.71], "nice": false, "zero": false}, "axis": {"values": [3, 9]}, "title": "Predict BA"}}},
  {"data": {"name": "lines"}, "transform": [{"filter": "datum.p == 'd'"}], "mark": {"type": "line", "color": "#000000", "strokeWidth": 3, "clip": true},
   "encoding": {"x": {"field": "x", "type": "quantitative"}, "y": {"field": "y", "type": "quantitative"}}},
  {"data": {"name": "labels"}, "transform": [{"filter": "datum.p == 'd'"}], "mark": {"type": "text", "align": "left", "baseline": "alphabetic", "lineHeight": 20},
   "encoding": {"x": {"datum": 1.66, "type": "quantitative"}, "y": {"datum": 11.73, "type": "quantitative"}, "text": {"field": "stats"}}},
  {"data": {"name": "labels"}, "transform": [{"filter": "datum.p == 'd'"}], "mark": {"type": "text", "align": "right", "baseline": "alphabetic", "lineHeight": 17},
   "encoding": {"x": {"datum": 11.44, "type": "quantitative"}, "y": {"datum": 2.14, "type": "quantitative"}, "text": {"field": "set"}}}
 ]},
{"width": 239, "height": 251.5, "title": {"text": "e"},
 "layer": [
  {"data": {"name": "pe"}, "mark": {"type": "circle", "size": 56, "opacity": 0.9, "color": "#DC143C"},
   "encoding": {"x": {"field": "x", "type": "quantitative", "scale": {"domain": [1.0, 12.72], "nice": false, "zero": false}, "axis": {"values": [3, 9]}, "title": "Experiment BA"},
                "y": {"field": "y", "type": "quantitative", "scale": {"domain": [0.96, 12.7], "nice": false, "zero": false}, "axis": {"values": [3, 9]}, "title": "Predict BA"}}},
  {"data": {"name": "lines"}, "transform": [{"filter": "datum.p == 'e'"}], "mark": {"type": "line", "color": "#000000", "strokeWidth": 3, "clip": true},
   "encoding": {"x": {"field": "x", "type": "quantitative"}, "y": {"field": "y", "type": "quantitative"}}},
  {"data": {"name": "labels"}, "transform": [{"filter": "datum.p == 'e'"}], "mark": {"type": "text", "align": "left", "baseline": "alphabetic", "lineHeight": 20},
   "encoding": {"x": {"datum": 1.59, "type": "quantitative"}, "y": {"datum": 11.69, "type": "quantitative"}, "text": {"field": "stats"}}},
  {"data": {"name": "labels"}, "transform": [{"filter": "datum.p == 'e'"}], "mark": {"type": "text", "align": "right", "baseline": "alphabetic", "lineHeight": 17},
   "encoding": {"x": {"datum": 11.47, "type": "quantitative"}, "y": {"datum": 2.1, "type": "quantitative"}, "text": {"field": "set"}}}
 ]},
{"width": 239, "height": 251.5, "title": {"text": "f"},
 "layer": [
  {"data": {"name": "pf"}, "mark": {"type": "circle", "size": 56, "opacity": 0.9, "color": "#34539A"},
   "encoding": {"x": {"field": "x", "type": "quantitative", "scale": {"domain": [1.0, 12.72], "nice": false, "zero": false}, "axis": {"values": [3, 9]}, "title": "Experiment BA"},
                "y": {"field": "y", "type": "quantitative", "scale": {"domain": [0.96, 12.7], "nice": false, "zero": false}, "axis": {"values": [3, 9]}, "title": "Predict BA"}}},
  {"data": {"name": "lines"}, "transform": [{"filter": "datum.p == 'f'"}], "mark": {"type": "line", "color": "#000000", "strokeWidth": 3, "clip": true},
   "encoding": {"x": {"field": "x", "type": "quantitative"}, "y": {"field": "y", "type": "quantitative"}}},
  {"data": {"name": "labels"}, "transform": [{"filter": "datum.p == 'f'"}], "mark": {"type": "text", "align": "left", "baseline": "alphabetic", "lineHeight": 20},
   "encoding": {"x": {"datum": 1.66, "type": "quantitative"}, "y": {"datum": 11.69, "type": "quantitative"}, "text": {"field": "stats"}}},
  {"data": {"name": "labels"}, "transform": [{"filter": "datum.p == 'f'"}], "mark": {"type": "text", "align": "right", "baseline": "alphabetic", "lineHeight": 17},
   "encoding": {"x": {"datum": 11.44, "type": "quantitative"}, "y": {"datum": 2.1, "type": "quantitative"}, "text": {"field": "set"}}}
 ]}
]
}
